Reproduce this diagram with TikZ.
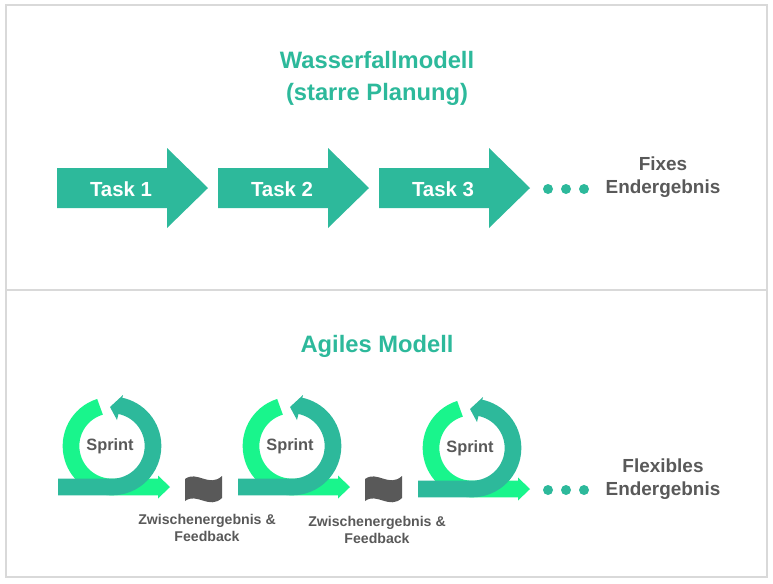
\documentclass[tikz,border=0pt]{standalone}
\usepackage{fontspec}
\setmainfont{Liberation Sans}
\usetikzlibrary{positioning,calc}
\definecolor{teal1}{HTML}{2DB99B}
\definecolor{lime1}{HTML}{19F58C}
\definecolor{txtgray}{HTML}{595959}
\definecolor{framegray}{HTML}{D9D9D9}
\tikzstyle{frame}=[draw=framegray, line width=2]
\tikzstyle{title}=[text=teal1, font=\bfseries\fontsize{17.8}{23.5}\selectfont, align=center]
\tikzstyle{tasktxt}=[text=white, font=\bfseries\fontsize{15.3}{18}\selectfont]
\tikzstyle{restxt}=[text=txtgray, font=\bfseries\fontsize{14.2}{17.5}\selectfont, align=center]
\tikzstyle{smalltxt}=[text=txtgray, font=\bfseries\fontsize{10.6}{12.2}\selectfont, align=center]
\tikzstyle{sprinttxt}=[text=txtgray, font=\bfseries\fontsize{12.3}{14}\selectfont]
\tikzstyle{dot}=[circle, fill=teal1, inner sep=0pt, minimum size=7.5]

\begin{document}
\begin{tikzpicture}[x=0.75pt, y=-0.75pt]
\useasboundingbox (0,0) rectangle (773,583);

% frames
\draw[frame] (6,5) rectangle (767,290);
\draw[frame] (6,290) rectangle (767,577);

% waterfall
\node (WTITLE) [title] at (377,78.5) {Wasserfallmodell\\(starre Planung)};
\foreach \i/\x in {1/57, 2/218, 3/379}{
  \fill[teal1] (\x,168) -- ++(110,0) -- ++(0,-20) -- ++(41,40) -- ++(-41,40)
     -- ++(0,-20) -- ++(-110,0) -- cycle;
  \node (TASK\i) [tasktxt] at ($(\x,189)+(64,0)$) {Task \i};
}
\foreach \x [count=\n] in {548,566,584}
  \node (WDOT\n) [dot] at (\x,189) {};
\node (WRES) [restxt] at (663,177) {Fixes\\Endergebnis};

% agile
\node (ATITLE) [title] at (377,346) {Agiles Modell};
\foreach \i/\cx/\cy in {1/112/446, 2/292/446, 3/472/448}{
  % green half with arrow
  \draw[lime1, line width=12.5] (\cx,\cy) ++(-107:41) arc (-107:-270:41) -- ++(46,0);
  \fill[lime1] (\cx+46,\cy+29.5) -- (\cx+58,\cy+41) -- (\cx+46,\cy+52.5) -- cycle;
  % teal half with arrow
  \draw[teal1, line width=12.5] (\cx-54,\cy+41) -- (\cx,\cy+41) arc (90:-80:41);
  \fill[teal1] (\cx+11,\cy-51) -- (\cx-2,\cy-39) -- (\cx+5,\cy-26) -- cycle;
  \node (SPRINT\i) [sprinttxt] at (\cx-2,\cy) {Sprint};
}
\foreach \i/\fx in {1/185, 2/365}{
  \fill[txtgray] (\fx,479) .. controls (\fx+12,470) and (\fx+24,488) .. (\fx+37,476)
     -- (\fx+37,498) .. controls (\fx+24,510) and (\fx+12,492) .. (\fx,501) -- cycle;
}
\node (FB1) [smalltxt] at (207,528) {Zwischenergebnis \&\\Feedback};
\node (FB2) [smalltxt] at (377,530) {Zwischenergebnis \&\\Feedback};
\foreach \x [count=\n] in {548,566,584}
  \node (ADOT\n) [dot] at (\x,490) {};
\node (ARES) [restxt] at (663,479) {Flexibles\\Endergebnis};
\end{tikzpicture}
\end{document}
